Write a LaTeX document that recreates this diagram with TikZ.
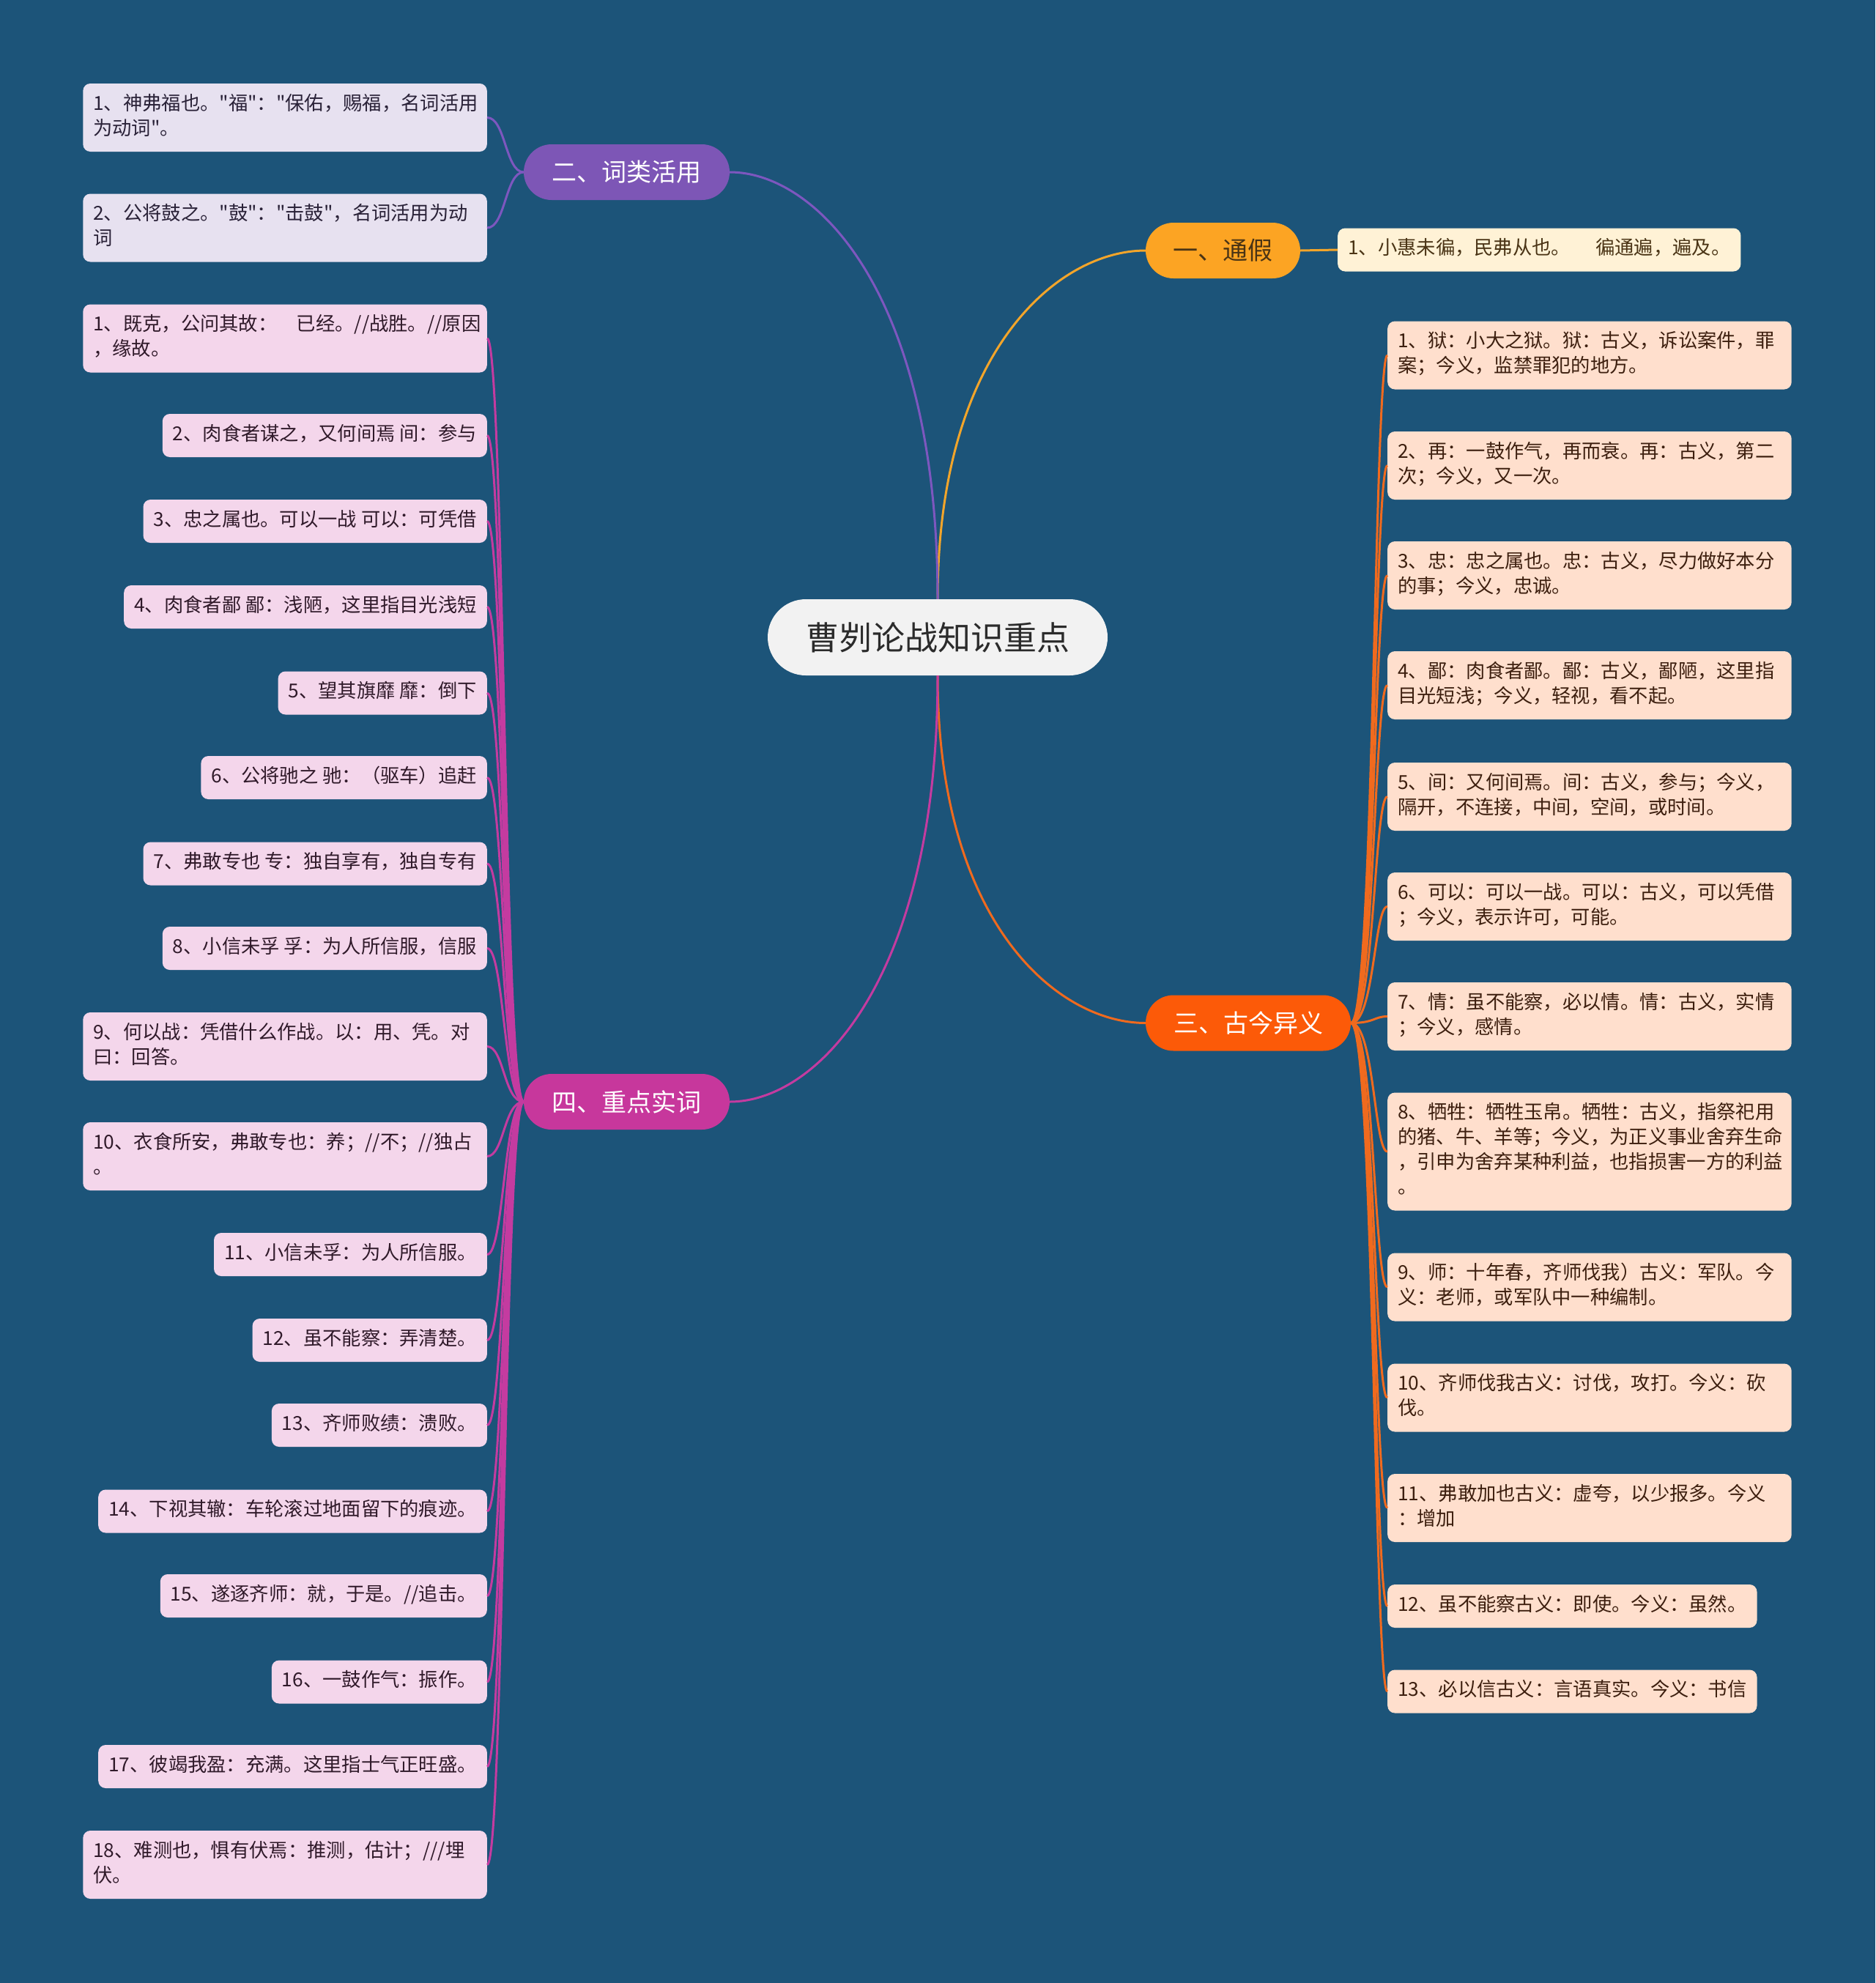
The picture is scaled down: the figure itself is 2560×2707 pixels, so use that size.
\documentclass[tikz,border=0pt]{standalone}
\usepackage{fontspec}
\setmainfont{Noto Sans CJK SC}[Ligatures=TeXOff]
\usetikzlibrary{shapes.misc}
\definecolor{bgblue}{HTML}{1C5479}
\definecolor{rootgray}{HTML}{F2F2F2}
\definecolor{roottext}{HTML}{2B2B2B}
\definecolor{tjfill}{HTML}{FCA423}
\definecolor{tjline}{HTML}{F3A52A}
\definecolor{tjleaf}{HTML}{FFF2D6}
\definecolor{tjtext}{HTML}{4A3415}
\definecolor{clfill}{HTML}{7D56B6}
\definecolor{clline}{HTML}{7D57BF}
\definecolor{clleaf}{HTML}{E7E1F0}
\definecolor{cltext}{HTML}{2A2238}
\definecolor{gjfill}{HTML}{FC5A08}
\definecolor{gjline}{HTML}{F06A1E}
\definecolor{gjleaf}{HTML}{FFDFCD}
\definecolor{gjtext}{HTML}{3D1F0F}
\definecolor{scfill}{HTML}{C7379C}
\definecolor{scline}{HTML}{C43BA0}
\definecolor{scleaf}{HTML}{F4D6EB}
\definecolor{sctext}{HTML}{301A2A}

\begin{document}
\begin{tikzpicture}[
    x=1pt, y=-1pt,
    root/.style={rounded rectangle, fill=rootgray, text=roottext, inner sep=0pt,
        minimum width=464pt, minimum height=104pt, font=\fontsize{45}{54}\selectfont},
    branch/.style={rounded rectangle, inner sep=0pt, minimum height=76pt,
        font=\fontsize{34}{40}\selectfont},
    leaf/.style={rounded corners=10pt, align=left, inner xsep=14pt, inner ysep=12.5pt,
        font=\fontsize{26.3}{34}\selectfont,
        execute at begin node=\strut, execute at end node=\strut},
    wide/.style={text width=523.5pt},
    leaftj/.style={leaf, fill=tjleaf, text=tjtext},
    leafcl/.style={leaf, fill=clleaf, text=cltext, anchor=east},
    leafgj/.style={leaf, fill=gjleaf, text=gjtext, anchor=west},
    leafsc/.style={leaf, fill=scleaf, text=sctext, anchor=east},
    link/.style={line width=3pt}
]

% --- Background ---
\fill[bgblue] (0,0) rectangle (2560,2707);
\useasboundingbox (0,0) rectangle (2560,2707);

% --- Root and main branches ---
\node[root] (root) at (1280,870) {曹刿论战知识重点};
\node[branch, fill=tjfill, text=tjtext, minimum width=211pt] (b1) at (1669.5,342) {一、通假};
\node[branch, fill=clfill, text=white, minimum width=281pt] (b2) at (855.5,235) {二、词类活用};
\node[branch, fill=gjfill, text=white, minimum width=280pt] (b3) at (1704,1396.5) {三、古今异义};
\node[branch, fill=scfill, text=white, minimum width=281pt] (b4) at (855.5,1504) {四、重点实词};

% --- Junctions of the leaf bundles ---
\coordinate (j2) at (690,235);
\coordinate (j3) at (1876,1396.5);
\coordinate (j4) at (688,1504);

% --- Branch one leaf ---
\node[leaftj, anchor=west] (t1) at (1826,341) {1、小惠未徧，民弗从也。\hspace{1.3em}徧通遍，遍及。};

% --- Branch two leaves ---
\node[leafcl, wide] (c1) at (665,160.5) {1、神弗福也。"福"："保佑，赐福，名词活用\\为动词"。};
\node[leafcl, wide] (c2) at (665,311) {2、公将鼓之。"鼓"："击鼓"，名词活用为动\\词};

% --- Branch three leaves ---
\node[leafgj, wide] (g1) at (1894,485) {1、狱：小大之狱。狱：古义，诉讼案件，罪\\案；今义，监禁罪犯的地方。};
\node[leafgj, wide] (g2) at (1894,635.5) {2、再：一鼓作气，再而衰。再：古义，第二\\次；今义，又一次。};
\node[leafgj, wide] (g3) at (1894,785.5) {3、忠：忠之属也。忠：古义，尽力做好本分\\的事；今义，忠诚。};
\node[leafgj, wide] (g4) at (1894,935.5) {4、鄙：肉食者鄙。鄙：古义，鄙陋，这里指\\目光短浅；今义，轻视，看不起。};
\node[leafgj, wide] (g5) at (1894,1087.5) {5、间：又何间焉。间：古义，参与；今义，\\隔开，不连接，中间，空间，或时间。};
\node[leafgj, wide] (g6) at (1894,1237.5) {6、可以：可以一战。可以：古义，可以凭借\\；今义，表示许可，可能。};
\node[leafgj, wide] (g7) at (1894,1387.5) {7、情：虽不能察，必以情。情：古义，实情\\；今义，感情。};
\node[leafgj, wide] (g8) at (1894,1572) {8、牺牲：牺牲玉帛。牺牲：古义，指祭祀用\\的猪、牛、羊等；今义，为正义事业舍弃生命\\，引申为舍弃某种利益，也指损害一方的利益\\。};
\node[leafgj, wide] (g9) at (1894,1757) {9、师：十年春，齐师伐我）古义：军队。今\\义：老师，或军队中一种编制。};
\node[leafgj, wide] (g10) at (1894,1908) {10、齐师伐我古义：讨伐，攻打。今义：砍\\伐。};
\node[leafgj, wide] (g11) at (1894,2058.5) {11、弗敢加也古义：虚夸，以少报多。今义\\：增加};
\node[leafgj] (g12) at (1894,2192.5) {12、虽不能察古义：即使。今义：虽然。};
\node[leafgj] (g13) at (1894,2309) {13、必以信古义：言语真实。今义：书信};

% --- Branch four leaves ---
\node[leafsc, wide] (s1) at (665,462) {1、既克，公问其故：~~~已经。//战胜。//原因\\，缘故。};
\node[leafsc] (s2) at (665,594.5) {2、肉食者谋之，又何间焉 间：参与};
\node[leafsc] (s3) at (665,711.5) {3、忠之属也。可以一战 可以：可凭借};
\node[leafsc] (s4) at (665,828.5) {4、肉食者鄙 鄙：浅陋，这里指目光浅短};
\node[leafsc] (s5) at (665,946) {5、望其旗靡 靡：倒下};
\node[leafsc] (s6) at (665,1061.5) {6、公将驰之 驰：（驱车）追赶};
\node[leafsc] (s7) at (665,1179) {7、弗敢专也 专：独自享有，独自专有};
\node[leafsc] (s8) at (665,1294.5) {8、小信未孚 孚：为人所信服，信服};
\node[leafsc, wide] (s9) at (665,1428.5) {9、何以战：凭借什么作战。以：用、凭。对\\曰：回答。};
\node[leafsc, wide] (s10) at (665,1578.5) {10、衣食所安，弗敢专也：养；//不；//独占\\。};
\node[leafsc] (s11) at (665,1712.5) {11、小信未孚：为人所信服。};
\node[leafsc] (s12) at (665,1829.5) {12、虽不能察：弄清楚。};
\node[leafsc] (s13) at (665,1945.5) {13、齐师败绩：溃败。};
\node[leafsc] (s14) at (665,2063) {14、下视其辙：车轮滚过地面留下的痕迹。};
\node[leafsc] (s15) at (665,2178.5) {15、遂逐齐师：就，于是。//追击。};
\node[leafsc] (s16) at (665,2296) {16、一鼓作气：振作。};
\node[leafsc] (s17) at (665,2411.5) {17、彼竭我盈：充满。这里指士气正旺盛。};
\node[leafsc, wide] (s18) at (665,2545.5) {18、难测也，惧有伏焉：推测，估计；///埋\\伏。};

% --- Root to branches ---
\draw[link, tjline] (root.north) .. controls +(0,-338) and +(-120,0) .. (b1.west);
\draw[link, clline] (root.north) .. controls +(0,-414) and +(120,0) .. (b2.east);
\draw[link, gjline] (root.south) .. controls +(0,338) and +(-120,0) .. (b3.west);
\draw[link, scline] (root.south) .. controls +(0,413) and +(120,0) .. (b4.east);

% --- Branches to leaves ---
\draw[link, tjline] (b1.east) -- (t1.west);

\foreach \i in {1,2}
{
    \draw[link, clline] (b2.west) .. controls (j2) and (j2 |- c\i.east) .. (c\i.east);
}

\foreach \i in {1,...,13}
{
    \draw[link, gjline] (b3.east) .. controls (j3) and (j3 |- g\i.west) .. (g\i.west);
}

\foreach \i in {1,...,18}
{
    \draw[link, scline] (b4.west) .. controls (j4) and (j4 |- s\i.east) .. (s\i.east);
}

\end{tikzpicture}
\end{document}
